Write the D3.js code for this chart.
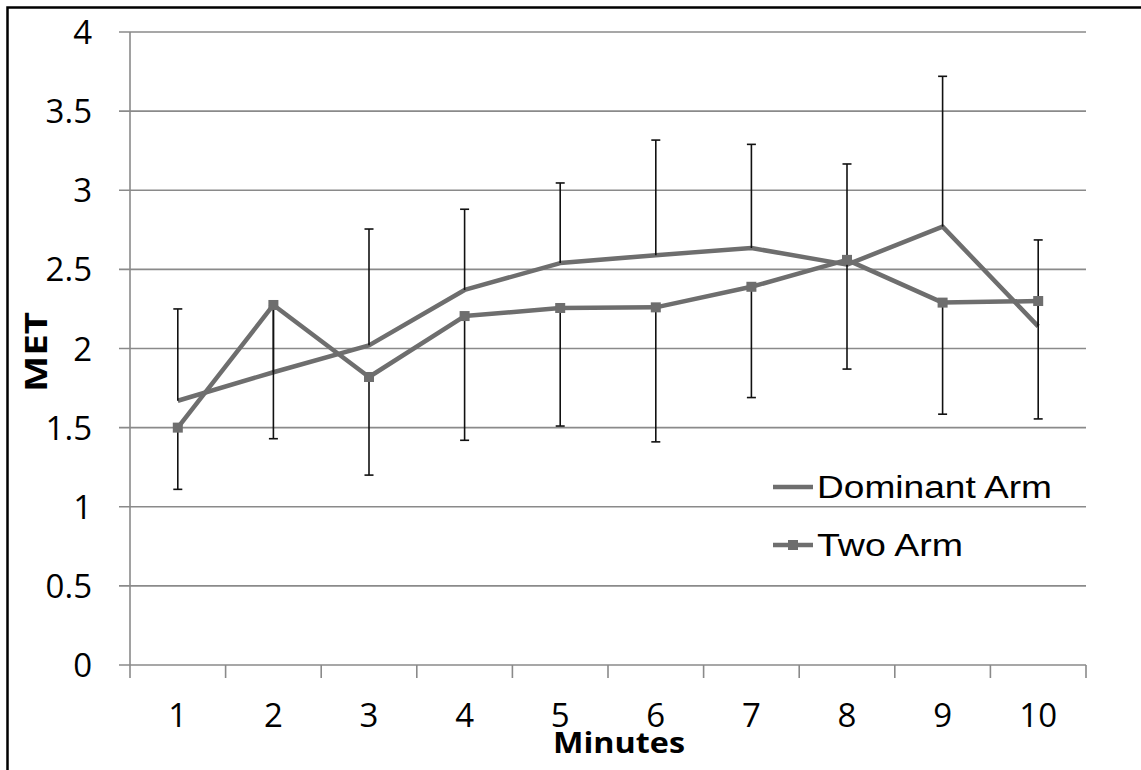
<!DOCTYPE html>
<html>
	<head>
		<meta charset="utf-8">
		<title>MET by minute</title>
		<script src="https://d3js.org/d3.v7.min.js"></script>
		<style>
			body { margin: 0; background: #fff; }
		</style>
	</head>
	<body>
		<script>

		// data
		var minutes = [1, 2, 3, 4, 5, 6, 7, 8, 9, 10];
		var dominantArm = [1.67, 1.85, 2.02, 2.37, 2.54, 2.59, 2.635, 2.53, 2.77, 2.14];
		var dominantErr = [0.58, 0.42, 0.735, 0.51, 0.506, 0.727, 0.655, 0.636, 0.95, 0.546];   // drawn upward
		var twoArm = [1.50, 2.275, 1.82, 2.205, 2.256, 2.26, 2.39, 2.56, 2.29, 2.30];
		var twoArmErr = [0.39, 0.845, 0.62, 0.785, 0.746, 0.85, 0.70, 0.69, 0.705, 0.745];     // drawn downward
		var yTicks = [0, 0.5, 1, 1.5, 2, 2.5, 3, 3.5, 4];
		var seriesNames = ["Dominant Arm", "Two Arm"];

		var W = 1141, H = 770;
		var plotLeft = 130, plotRight = 1086, plotTop = 32, plotBottom = 665;
		var lineColor = "#6e6e6e", gridColor = "#8a8a8a";
		var numFont = "'Open Sans', Lato, sans-serif";

		var svg = d3.select("body")
			.append("svg")
			.attr("width", W)
			.attr("height", H);

		var x = d3.scaleBand()
			.domain(minutes)
			.range([plotLeft, plotRight]);
		var cx = function(d){ return x(d) + x.bandwidth() / 2; };

		var y = d3.scaleLinear()
			.domain([0, 4])
			.range([plotBottom, plotTop]);

		// frame (only top and left edges show in the crop)
		svg.append("path")
			.attr("d", "M7.5," + H + "V7.5H" + W)
			.attr("fill", "none")
			.attr("stroke", "#000")
			.attr("stroke-width", 2.5);

		// gridlines
		svg.selectAll("line.grid")
			.data(yTicks)
			.enter().append("line")
			.attr("class", "grid")
			.attr("x1", plotLeft - 11)
			.attr("x2", plotRight)
			.attr("y1", function(d){ return y(d); })
			.attr("y2", function(d){ return y(d); })
			.attr("stroke", gridColor)
			.attr("stroke-width", 1.6);

		// y axis line
		svg.append("line")
			.attr("x1", plotLeft).attr("x2", plotLeft)
			.attr("y1", plotTop).attr("y2", plotBottom)
			.attr("stroke", gridColor)
			.attr("stroke-width", 1.6);

		// x ticks at category edges
		var edges = minutes.map(function(d){ return x(d); }).concat([plotRight]);
		svg.selectAll("line.xtick")
			.data(edges)
			.enter().append("line")
			.attr("class", "xtick")
			.attr("x1", function(d){ return d; })
			.attr("x2", function(d){ return d; })
			.attr("y1", plotBottom)
			.attr("y2", plotBottom + 13)
			.attr("stroke", gridColor)
			.attr("stroke-width", 1.6);

		// y tick labels
		svg.selectAll("text.ylab")
			.data(yTicks)
			.enter().append("text")
			.attr("class", "ylab")
			.attr("x", 92)
			.attr("y", function(d){ return y(d) + 12; })
			.attr("text-anchor", "end")
			.style("font-family", numFont)
			.style("font-size", "33px")
			.text(function(d){ return d; });

		// x tick labels
		svg.selectAll("text.xlab")
			.data(minutes)
			.enter().append("text")
			.attr("class", "xlab")
			.attr("x", cx)
			.attr("y", 727)
			.attr("text-anchor", "middle")
			.style("font-family", numFont)
			.style("font-size", "33px")
			.text(function(d){ return d; });

		// axis titles
		svg.append("text")
			.attr("transform", "translate(47,352) rotate(-90)")
			.attr("text-anchor", "middle")
			.attr("textLength", 80)
			.attr("lengthAdjust", "spacingAndGlyphs")
			.style("font-family", numFont)
			.style("font-weight", "bold")
			.style("font-size", "31px")
			.text("MET");

		svg.append("text")
			.attr("x", 619)
			.attr("y", 753)
			.attr("text-anchor", "middle")
			.attr("textLength", 132)
			.attr("lengthAdjust", "spacingAndGlyphs")
			.style("font-family", numFont)
			.style("font-weight", "bold")
			.style("font-size", "29px")
			.text("Minutes");

		// series lines
		var line = d3.line()
			.x(function(d, i){ return cx(minutes[i]); })
			.y(function(d){ return y(d); });

		[dominantArm, twoArm].forEach(function(s){
			svg.append("path")
				.datum(s)
				.attr("d", line)
				.attr("fill", "none")
				.attr("stroke", lineColor)
				.attr("stroke-width", 4.5)
				.attr("stroke-linejoin", "round");
		});

		// error bars: dominant upward, two arm downward
		var bars = minutes.map(function(m, i){
			return [
				{m: m, from: dominantArm[i], to: dominantArm[i] + dominantErr[i]},
				{m: m, from: twoArm[i], to: twoArm[i] - twoArmErr[i]}
			];
		}).flat();

		var eb = svg.selectAll("g.err")
			.data(bars)
			.enter().append("g")
			.attr("class", "err");
		eb.append("line")
			.attr("x1", function(d){ return cx(d.m); })
			.attr("x2", function(d){ return cx(d.m); })
			.attr("y1", function(d){ return y(d.from); })
			.attr("y2", function(d){ return y(d.to); })
			.attr("stroke", "#111")
			.attr("stroke-width", 1.6);
		eb.append("line")
			.attr("x1", function(d){ return cx(d.m) - 4.5; })
			.attr("x2", function(d){ return cx(d.m) + 4.5; })
			.attr("y1", function(d){ return y(d.to); })
			.attr("y2", function(d){ return y(d.to); })
			.attr("stroke", "#111")
			.attr("stroke-width", 1.6);

		// square markers on two arm
		svg.selectAll("rect.mk")
			.data(twoArm)
			.enter().append("rect")
			.attr("class", "mk")
			.attr("x", function(d, i){ return cx(minutes[i]) - 5; })
			.attr("y", function(d){ return y(d) - 5; })
			.attr("width", 10)
			.attr("height", 10)
			.attr("fill", lineColor);

		// legend
		var lg = svg.append("g");
		var lgRows = [
			{name: seriesNames[0], y: 487, marker: false, len: 235},
			{name: seriesNames[1], y: 545, marker: true, len: 146}
		];
		lgRows.forEach(function(r){
			lg.append("line")
				.attr("x1", 773).attr("x2", 813)
				.attr("y1", r.y).attr("y2", r.y)
				.attr("stroke", lineColor)
				.attr("stroke-width", 4.5);
			if (r.marker) {
				lg.append("rect")
					.attr("x", 788).attr("y", r.y - 5)
					.attr("width", 10).attr("height", 10)
					.attr("fill", lineColor);
			}
			lg.append("text")
				.attr("x", 817)
				.attr("y", r.y + 11)
				.attr("textLength", r.len)
				.attr("lengthAdjust", "spacingAndGlyphs")
				.style("font-family", "'Liberation Sans', Arial, sans-serif")
				.style("font-size", "31px")
				.text(r.name);
		});

		</script>
	</body>
</html>
